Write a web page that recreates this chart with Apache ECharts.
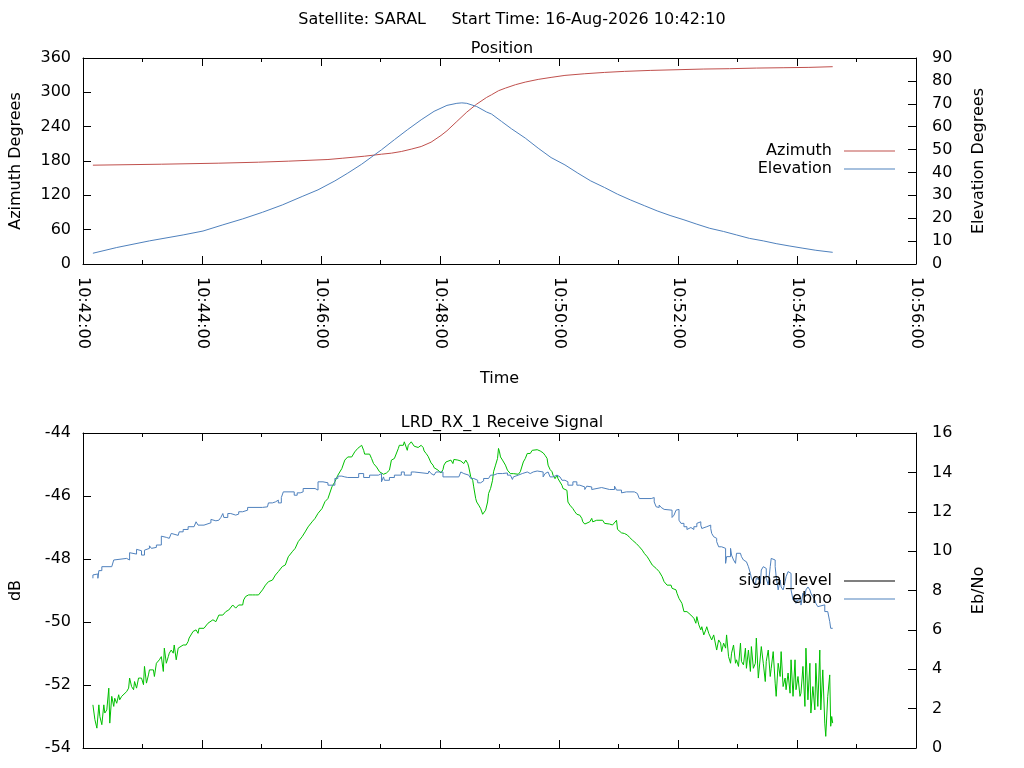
<!DOCTYPE html>
<html>
<head>
<meta charset="utf-8">
<title>SARAL pass</title>
<script src="https://cdn.jsdelivr.net/npm/echarts@6/dist/echarts.min.js"></script>
<style>
  html, body { margin: 0; padding: 0; background: #fff; }
  #chart { width: 1024px; height: 768px; }
</style>
</head>
<body>
<div id="chart"></div>
<script>
// time values are seconds after 10:42:00
var azTime = [10, 79, 137, 177, 207, 247, 262, 284, 301, 311, 321, 331, 341, 351, 361, 367, 377, 387, 397, 407,
    412, 419, 426, 436, 446, 459, 472, 486, 506, 526, 546, 572, 599, 626, 652, 679, 706, 732, 756];
var azValue = [172.7, 174.4, 176.2, 177.9, 179.7, 182.6, 184.9, 188.4, 191.9, 193.7, 196.6, 200.7, 205.3, 212.9, 224.6, 232.8, 249.1, 265.4, 279.4, 291.1,
    295.8, 302.8, 307.4, 313.3, 317.9, 322.6, 326.1, 329.6, 332.5, 334.8, 336.6, 338.3, 339.5, 340.7, 341.3, 342.4, 343.0, 343.6, 344.8];

var elTime = [10, 34, 67, 101, 121, 141, 161, 181, 201, 221, 237, 254, 267, 281, 294, 301, 314, 327, 341, 354, 367, 377, 382, 387, 397, 407,
    412, 422, 432, 446, 459, 472, 486, 499, 512, 526, 539, 552, 566, 579, 592, 606, 619, 632, 646, 659, 672, 686, 699, 712, 726, 739, 756];
var elValue = [4.7, 7.2, 10.1, 12.7, 14.4, 17.1, 19.7, 22.6, 25.8, 29.5, 32.4, 36.3, 39.7, 43.6, 47.7, 49.9, 54.3, 58.6, 63.0, 66.7, 69.3, 70.2, 70.4, 70.2, 68.8, 66.4,
    65.5, 62.3, 59.1, 55.0, 50.6, 46.5, 43.3, 39.7, 36.3, 33.4, 30.5, 28.0, 25.5, 23.2, 21.2, 19.3, 17.4, 15.6, 14.2, 12.7, 11.2, 10.1, 8.9, 7.9, 6.9, 6.0, 5.1];

var sigTime = [10, 12, 14, 16, 17, 19, 21, 22, 24, 26, 27, 29, 31, 32, 34, 36, 37, 39, 41, 44, 46, 47, 49, 51, 52, 54, 56, 57, 59, 61,
    62, 64, 66, 67, 69, 71, 72, 74, 76, 77, 79, 81, 82, 84, 86, 87, 89, 91, 92, 94, 96, 97, 101, 104, 106, 107, 111, 114, 116, 117,
    119, 122, 126, 127, 131, 134, 137, 141, 144, 147, 151, 154, 157, 161, 162, 164, 167, 171, 174, 177, 181, 184, 187, 191, 194, 197, 201, 204, 207, 211,
    214, 217, 221, 224, 227, 231, 234, 237, 241, 244, 247, 251, 254, 257, 261, 264, 267, 271, 274, 277,
    281, 283, 284, 289, 291, 293, 294, 296, 298, 299, 301, 303, 306, 308, 309, 311, 313, 314, 316, 318, 319, 321, 323, 324, 326, 327, 328, 329, 331, 333,
    334, 336, 338, 339, 341, 343, 344, 346, 348, 351, 353, 354, 356, 358, 359, 361, 363, 364, 366, 368, 371, 373, 374, 376, 378, 381, 383, 384, 386, 388,
    389, 391, 393, 394, 396, 397, 398, 399, 401, 403, 404, 406, 408, 409, 411, 413, 414, 416, 418, 419, 420, 421, 423, 424, 426, 428, 429, 431, 434, 436,
    439, 441, 443, 444, 446, 448, 449, 451, 453, 454, 458, 459, 461, 464, 466, 468, 469, 471, 473, 474, 476, 478, 479, 481, 483, 484, 488, 489, 491, 494,
    496, 498, 501, 503, 504, 506, 511, 513, 514, 518, 524, 526, 528, 531, 534, 536, 538, 539, 541, 543, 546, 548, 549, 551,
    553, 554, 556, 558, 559, 561, 563, 564, 566, 568, 569, 571, 573, 574, 576, 578, 579, 581, 583, 584, 586, 588, 589, 591, 593, 594, 596, 598, 599, 601,
    603, 604, 606, 608, 609, 611, 613, 614, 616, 618, 619, 621, 623, 624, 626, 628, 629, 631, 633, 634, 636, 638, 639, 641, 643, 644, 646, 648, 649, 651,
    653, 654, 656, 658, 659, 661, 663, 664, 666, 668, 669, 671, 673, 674, 676, 678, 679, 681, 683, 684, 686, 688, 689, 691, 693, 694, 696, 698, 699, 701,
    703, 704, 706, 708, 709, 711, 713, 714, 716, 718, 719, 721, 723, 724, 726, 728, 729, 731, 733, 734, 736, 738, 739, 741, 743, 744, 746, 748, 749, 751,
    753, 754, 755, 756];
var sigLevel = [-52.63, -53.10, -53.37, -52.63, -53.00, -53.26, -52.63, -52.89, -52.79, -52.10, -53.21, -52.36, -52.68, -52.42, -52.58, -52.31, -52.47, -52.36, -52.31, -52.21,
    -52.10, -51.78, -52.05, -52.15, -51.89, -52.10, -51.78, -51.84, -51.78, -51.99,
    -51.41, -51.94, -51.68, -51.52, -51.57, -51.52, -51.73, -51.31, -51.26, -51.20, -51.10, -51.57, -50.83, -51.31, -51.10, -50.99, -50.89, -50.99, -50.73, -51.20,
    -50.83, -50.78, -50.73, -50.73, -50.62, -50.51, -50.30, -50.25, -50.36, -50.20,
    -50.20, -50.20, -50.04, -50.09, -49.93, -49.99, -49.78, -49.78, -49.67, -49.62, -49.46, -49.56, -49.46, -49.46, -49.30, -49.19, -49.14, -49.14, -49.14, -49.14,
    -48.98, -48.83, -48.72, -48.67, -48.51, -48.40, -48.24, -48.19, -47.93, -47.77,
    -47.66, -47.45, -47.29, -47.14, -46.98, -46.82, -46.71, -46.55, -46.40, -46.18, -46.08, -45.71, -45.55, -45.34, -45.13, -44.86, -44.76, -44.76, -44.60, -44.49,
    -44.39, -44.55, -44.67, -44.67, -44.81, -44.97, -45.02, -45.08, -45.13, -45.23, -45.29, -45.31, -45.27, -45.29, -45.18, -44.86, -44.81, -44.81, -44.76, -44.49,
    -44.39, -44.41, -44.39, -44.28, -44.34, -44.55, -44.39, -44.36, -44.28, -44.34,
    -44.42, -44.39, -44.46, -44.42, -44.39, -44.46, -44.57, -44.65, -44.74, -44.95, -45.02, -45.10, -45.16, -45.18, -45.23, -45.27, -45.16, -45.02, -44.92, -44.89,
    -44.86, -44.97, -44.84, -44.78, -44.86, -44.89, -44.92, -44.97, -44.86, -44.97,
    -45.08, -45.39, -45.50, -45.71, -46.08, -46.19, -46.13, -46.29, -46.40, -46.58, -46.58, -46.45, -46.19, -45.92, -45.76, -45.50, -45.23, -45.02, -44.81, -44.49,
    -44.60, -44.76, -44.86, -44.89, -45.02, -45.18, -45.23, -45.29, -45.29, -45.34,
    -45.31, -45.23, -45.18, -44.92, -44.81, -44.65, -44.60, -44.65, -44.55, -44.49, -44.53, -44.49, -44.57, -44.63, -44.71, -44.81, -45.02, -45.16, -45.23, -45.34,
    -45.45, -45.34, -45.45, -45.50, -45.66, -45.76, -45.82, -46.19, -46.29, -46.40,
    -46.50, -46.58, -46.61, -46.71, -46.82, -46.89, -46.82, -46.71, -46.82, -46.77, -46.77, -46.87, -46.82, -46.89, -46.92, -46.92, -46.77, -47.06, -47.08, -47.17,
    -47.19, -47.17, -47.24, -47.31,
    -47.35, -47.40, -47.45, -47.51, -47.56, -47.61, -47.66, -47.72, -47.82, -47.87, -47.93, -48.03, -48.09, -48.19, -48.24, -48.30, -48.30, -48.40, -48.46, -48.56,
    -48.72, -48.77, -48.83, -48.88, -48.83, -48.93, -48.88, -48.98, -49.09, -49.25,
    -49.30, -49.41, -49.67, -49.72, -49.67, -49.62, -49.78, -49.78, -49.88, -50.04, -49.83, -50.09, -50.25, -50.15, -50.41, -50.25, -50.15, -50.36, -50.30, -50.57,
    -50.41, -50.36, -50.89, -50.57, -50.67, -50.94, -50.67, -50.83, -50.41, -51.10,
    -51.31, -50.99, -50.73, -51.31, -51.20, -51.41, -50.67, -51.25, -51.36, -50.83, -51.47, -50.89, -51.57, -50.78, -51.47, -51.31, -50.51, -51.78, -51.73, -50.78,
    -51.31, -51.89, -51.25, -50.89, -51.73, -51.47, -50.94, -51.94, -52.36, -51.31,
    -51.73, -50.94, -52.05, -51.78, -52.15, -51.62, -52.26, -51.20, -52.36, -51.20, -52.15, -51.73, -52.36, -52.26, -51.41, -52.68, -50.83, -52.47, -51.31, -52.89,
    -52.05, -52.79, -51.31, -52.68, -50.89, -52.79, -51.52, -53.21, -53.63, -52.36,
    -51.68, -53.31, -53.00, -53.21];

var ebnoTime = [10, 12, 15, 16, 19, 29, 31, 32, 44, 47, 49, 54, 56, 59, 62, 64, 67, 69, 71, 74, 79, 81, 84, 87, 89, 91, 96, 97, 101, 106,
    112, 114, 116, 122, 124, 129, 131, 134, 136, 137, 139, 141, 142, 146, 149, 154, 157, 161, 166, 181, 186, 187, 191, 194, 197, 200, 202, 213, 216, 219,
    222, 234, 237, 242, 247, 254, 257, 261, 264, 267, 278, 283, 289, 298, 301, 303, 304, 309, 314, 321, 324, 331, 334, 348, 349, 351, 353, 354, 356, 363,
    366, 368, 379, 381, 383, 384, 389, 391, 394, 398, 401, 404, 409, 411, 414, 418, 419, 423, 424, 428, 431, 433, 434, 436, 439, 443, 448, 451, 454, 458,
    464, 466, 468, 469, 471, 474, 478, 481, 483, 486, 489, 494, 498, 501, 506, 508, 509, 513, 514, 523, 531, 533, 536, 538, 543, 544, 548, 549, 556, 559,
    561, 573, 574, 576, 578, 579, 581, 583, 584, 586, 594, 596, 598, 599, 601, 603, 606, 609, 611, 613, 616, 619, 621, 623, 624, 626, 629, 633, 634, 636,
    638, 639, 641, 644, 648, 649, 653, 654, 656, 658, 659, 663, 664, 666, 668, 669, 671, 673, 674, 676, 678, 679, 681, 683, 684, 686, 688, 689, 691, 693,
    694, 696, 698, 699, 701, 703, 704, 706, 708, 709, 711, 713, 714, 716, 718, 719, 721, 724, 726, 728, 729, 731, 733, 734, 736, 738, 739, 741, 743, 748,
    751, 753, 754, 756];
var ebnoValue = [8.62, 8.79, 8.84, 8.62, 9.01, 9.21, 9.29, 9.55, 9.63, 9.55, 9.92, 9.85, 10.09, 10.02, 9.80, 10.05, 10.14, 10.27, 10.14, 10.19, 10.31, 10.76, 10.70, 10.65, 10.59, 10.90, 10.80, 10.90, 10.98, 11.10,
    11.24, 11.32, 11.49, 11.32, 11.41, 11.44, 11.61, 11.54, 11.61, 11.57, 11.66, 11.71, 11.91, 11.71, 11.91, 11.83, 11.88, 12.00, 12.08, 12.22, 12.25, 12.34, 12.45, 12.50, 12.59, 12.45, 12.72, 13.01, 12.84, 12.96,
    13.01, 13.18, 13.10, 13.52, 13.47, 13.35, 13.69, 13.81, 13.77, 13.74, 13.74, 13.94, 13.74, 13.86, 13.94, 13.52, 13.77, 13.60, 13.74, 13.86, 14.02, 13.86, 14.02, 13.94, 14.02, 14.07, 13.94, 13.86, 13.94, 14.02,
    13.77, 13.86, 13.77, 13.86, 14.02, 13.94, 13.86, 13.77, 13.69, 13.60, 13.47, 13.57, 13.69, 13.77, 13.86, 13.94, 14.02, 13.94, 14.02, 13.97, 13.86, 13.77, 13.64, 13.77, 13.86, 13.94, 14.02, 13.94, 14.02, 14.07,
    14.02, 13.77, 13.94, 14.02, 13.94, 13.77, 13.86, 13.77, 13.69, 13.60, 13.52, 13.35, 13.52, 13.35, 13.26, 13.13, 13.30, 13.26, 13.13, 13.23, 13.13, 13.23, 13.13, 13.30, 13.10, 12.96, 13.01, 13.10, 13.01, 12.93,
    12.84, 12.67, 12.59, 12.72, 12.50, 12.25, 12.22, 12.34, 12.22, 12.12, 12.08, 11.71, 11.83, 12.08, 12.12, 11.57, 11.41, 11.24, 11.10, 11.20, 11.10, 11.24, 11.41, 11.49, 11.32, 11.15, 11.24, 11.32, 11.15, 10.90,
    10.73, 10.65, 10.48, 10.22, 10.14, 9.38, 9.72, 10.14, 9.80, 9.55, 9.38, 9.89, 9.92, 9.72, 9.55, 9.46, 9.38, 9.21, 8.87, 8.62, 8.45, 8.28, 8.62, 8.53, 8.36, 9.04, 9.21, 9.12, 8.62, 8.28,
    9.21, 9.63, 9.55, 9.21, 8.70, 8.03, 8.53, 8.18, 8.03, 8.45, 8.70, 8.96, 8.87, 8.03, 7.52, 7.60, 7.35, 7.52, 7.26, 7.86, 7.69, 8.03, 8.18, 8.03, 7.86, 7.69, 7.52, 7.35, 7.18, 7.27,
    6.93, 6.84, 6.42, 6.08];

var xTicks = { min: 0, max: 840, step: 120 };

function pad(n) {
    return n < 10 ? '0' + n : '' + n;
}
function fmtTime(v) {
    var m = 42 + Math.floor(v / 60);
    var s = Math.round(v % 60);
    return '10:' + pad(m) + ':' + pad(s);
}
function zip(a, b) {
    var out = [];
    for (var i = 0; i < a.length; i++) {
        out.push([a[i], b[i]]);
    }
    return out;
}

var font = 'DejaVu Sans';
var black = '#000';
var fs = 16;
var txt = { color: black, fontSize: fs, fontFamily: font };

function xAxisOf(grid, pos, withLabel) {
    var ax = {
        gridIndex: grid,
        type: 'value',
        position: pos,
        min: xTicks.min,
        max: xTicks.max,
        interval: xTicks.step,
        axisLine: { show: true, onZero: false, lineStyle: { color: black, width: 1 } },
        axisTick: { show: true, inside: true, length: 8, lineStyle: { color: black } },
        minorTick: { show: true, splitNumber: 2, length: 4, lineStyle: { color: black } },
        splitLine: { show: false },
        axisLabel: { show: false }
    };
    if (withLabel) {
        ax.axisLabel = {
            show: true, rotate: -90, margin: 13,
            color: black, fontSize: fs, fontFamily: font,
            formatter: fmtTime
        };
        ax.name = 'Time';
        ax.nameLocation = 'middle';
        ax.nameGap = 107;
        ax.nameTextStyle = txt;
    }
    return ax;
}

function yAxisOf(grid, pos, min, max, step, name, gap, margin) {
    return {
        gridIndex: grid,
        type: 'value',
        position: pos,
        min: min,
        max: max,
        interval: step,
        name: name,
        nameLocation: 'middle',
        nameRotate: 90,
        nameGap: gap,
        nameTextStyle: txt,
        axisLine: { show: true, onZero: false, lineStyle: { color: black, width: 1 } },
        axisTick: { show: true, inside: true, length: 8, lineStyle: { color: black } },
        splitLine: { show: false },
        axisLabel: { margin: margin, color: black, fontSize: fs, fontFamily: font }
    };
}

function lineSeries(name, xi, yi, data, color, step) {
    var s = {
        name: name,
        type: 'line',
        xAxisIndex: xi,
        yAxisIndex: yi,
        data: data,
        symbol: 'none',
        showSymbol: false,
        silent: true,
        itemStyle: { color: color },
        lineStyle: { color: color, width: 1 }
    };
    if (step) {
        s.step = step;
    }
    return s;
}

function legendOf(items, top) {
    return {
        data: items,
        orient: 'vertical', align: 'right',
        right: 124, top: top,
        icon: 'rect',
        itemWidth: 51, itemHeight: 1, itemGap: 2,
        selectedMode: false,
        textStyle: { color: black, fontSize: fs, fontFamily: font, padding: [0, 7, 0, 0] }
    };
}

var chart = echarts.init(document.getElementById('chart'), null, { renderer: 'canvas' });

var option = {
    backgroundColor: '#fff',
    animation: false,
    title: [
        {
            text: 'Satellite: SARAL     Start Time: 16-Aug-2026 10:42:10',
            left: 'center', top: 7,
            textStyle: { color: black, fontSize: fs, fontWeight: 'normal', fontFamily: font }
        },
        {
            text: 'Position',
            left: 497, top: 36, textAlign: 'center',
            textStyle: { color: black, fontSize: fs, fontWeight: 'normal', fontFamily: font }
        },
        {
            text: 'LRD_RX_1 Receive Signal',
            left: 497, top: 410, textAlign: 'center',
            textStyle: { color: black, fontSize: fs, fontWeight: 'normal', fontFamily: font }
        }
    ],
    legend: [
        legendOf(['Azimuth', 'Elevation'], 138),
        legendOf([
            { name: 'signal_level', itemStyle: { color: black } },
            { name: 'ebno' }
        ], 568)
    ],
    grid: [
        { left: 79, right: 108, top: 58, height: 206, containLabel: false },
        { left: 79, right: 108, top: 433, height: 315, containLabel: false }
    ],
    xAxis: [
        xAxisOf(0, 'bottom', true),
        xAxisOf(0, 'top', false),
        xAxisOf(1, 'bottom', false),
        xAxisOf(1, 'top', false)
    ],
    yAxis: [
        yAxisOf(0, 'left', 0, 360, 60, 'Azimuth Degrees', 59, 12),
        yAxisOf(0, 'right', 0, 90, 10, 'Elevation Degrees', 55, 16),
        yAxisOf(1, 'left', -54, -44, 2, 'dB', 59, 12),
        yAxisOf(1, 'right', 0, 16, 2, 'Eb/No', 55, 16)
    ],
    series: [
        lineSeries('Azimuth', 0, 0, zip(azTime, azValue), '#C0504D'),
        lineSeries('Elevation', 0, 1, zip(elTime, elValue), '#4F81BD'),
        lineSeries('signal_level', 2, 2, zip(sigTime, sigLevel), '#00C000'),
        lineSeries('ebno', 2, 3, zip(ebnoTime, ebnoValue), '#4F81BD', 'start')
    ]
};

chart.setOption(option);
</script>
</body>
</html>
